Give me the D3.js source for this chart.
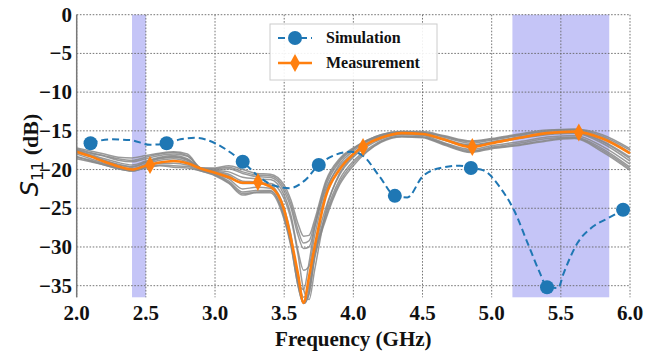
<!DOCTYPE html>
<html>
<head>
<meta charset="utf-8">
<script src="https://cdn.jsdelivr.net/npm/d3@7"></script>
<style>
    body { margin: 0; background: #fff; }
    .tick-label { font-family: "Liberation Serif", "DejaVu Serif", serif; font-weight: bold; font-size: 21px; fill: #111; }
    .legend-text { font-family: "Liberation Serif", "DejaVu Serif", serif; font-weight: bold; font-size: 16px; fill: #111; }
</style>
</head>
<body>
<script>
// frequency grid (GHz) shared by the measured curve and the gray sample runs
const freqGrid = [2.0, 2.1, 2.2, 2.3, 2.4, 2.5, 2.6, 2.7, 2.8, 2.9, 3.0, 3.1, 3.2, 3.3, 3.4, 3.5, 3.55, 3.6, 3.64, 3.68,
    3.72, 3.8, 3.9, 4.0, 4.1, 4.2, 4.35, 4.5, 4.65, 4.85, 5.0, 5.2, 5.4, 5.6, 5.8, 6.0];

const measured = [-17.7, -18.3, -19.0, -19.6, -20.0, -19.5, -19.1, -18.9, -19.2, -19.9, -20.4, -21.0, -21.7, -21.7, -22.2,
    -25.2, -29.0, -33.5, -37.2, -33.8, -30.0, -23.5, -20.0, -18.0, -16.7, -15.9, -15.3, -15.4, -16.1, -17.1, -16.6, -15.9,
    -15.3, -15.1, -16.0, -17.9];

const grayRuns = [
    [-17.2, -17.6, -18.0, -18.4, -18.5, -18.2, -17.9, -17.7, -18.0, -19.8, -19.8, -19.5, -20.0, -20.5, -20.6, -22.0, -24.0, -27.0, -28.6, -28.5, -26.5, -21.5, -18.6, -17.2, -16.2, -15.5, -15.1, -15.1, -15.6, -16.3, -16.0, -15.4, -14.9, -14.8, -15.5, -17.3],
    [-18.6, -19.0, -19.4, -19.9, -20.2, -19.8, -19.5, -19.7, -19.8, -20.2, -20.8, -21.8, -23.3, -23.0, -23.0, -26.5, -30.0, -35.0, -37.3, -36.0, -31.5, -26.5, -22.0, -19.5, -17.7, -16.5, -15.8, -15.9, -16.8, -17.8, -17.3, -16.9, -16.3, -16.0, -17.7, -20.1],
    [-17.5, -18.1, -18.6, -19.1, -19.4, -18.9, -18.4, -18.2, -18.6, -19.9, -20.1, -20.3, -21.0, -21.2, -21.3, -23.3, -26.0, -30.5, -33.0, -32.5, -28.5, -23.0, -19.3, -17.6, -16.4, -15.7, -15.2, -15.3, -16.0, -16.8, -16.4, -15.8, -15.3, -15.1, -16.3, -18.4],
    [-18.0, -18.6, -19.2, -19.7, -19.9, -19.3, -18.8, -18.6, -19.0, -20.0, -20.5, -21.2, -22.5, -22.3, -22.4, -25.5, -29.0, -34.0, -36.5, -35.0, -30.5, -25.0, -20.7, -18.4, -17.0, -16.1, -15.5, -15.6, -16.5, -17.4, -16.9, -16.4, -15.8, -15.6, -17.0, -19.3],
    [-17.4, -17.9, -18.3, -18.8, -19.0, -18.6, -18.2, -18.0, -18.3, -19.8, -20.0, -19.9, -20.5, -20.9, -21.0, -22.8, -25.0, -28.5, -30.2, -30.0, -27.5, -22.2, -19.0, -17.4, -16.3, -15.6, -15.2, -15.2, -15.8, -16.6, -16.2, -15.6, -15.1, -14.9, -15.9, -17.8],
    [-18.3, -18.8, -19.3, -19.8, -20.1, -19.6, -19.2, -19.2, -19.4, -20.1, -20.6, -21.5, -22.9, -22.7, -22.7, -26.0, -29.5, -34.5, -37.0, -35.5, -31.0, -25.8, -21.3, -18.9, -17.4, -16.3, -15.7, -15.8, -16.6, -17.6, -17.1, -16.6, -16.0, -15.8, -17.3, -19.7],
    [-17.8, -18.3, -18.9, -19.4, -19.7, -19.1, -18.6, -18.4, -18.8, -20.0, -20.3, -20.8, -21.8, -21.8, -21.8, -23.8, -26.5, -31.0, -35.5, -36.8, -33.0, -25.5, -20.5, -18.2, -16.8, -15.9, -15.4, -15.5, -16.2, -17.0, -16.6, -16.0, -15.5, -15.3, -16.6, -18.9],
    [-17.6, -18.2, -18.8, -19.3, -19.6, -19.0, -18.5, -18.3, -18.7, -19.9, -20.2, -20.6, -21.5, -21.6, -22.0, -25.0, -28.5, -34.5, -35.5, -32.0, -27.5, -22.6, -19.6, -17.9, -16.6, -15.8, -15.3, -15.4, -16.1, -16.9, -16.5, -15.9, -15.4, -15.2, -16.4, -18.6],
    [-17.3, -17.8, -18.2, -18.6, -18.8, -18.4, -18.0, -17.8, -18.2, -19.8, -19.9, -19.7, -20.3, -20.7, -20.8, -22.4, -24.5, -27.8, -29.5, -29.2, -27.0, -21.8, -18.8, -17.3, -16.2, -15.5, -15.1, -15.2, -15.7, -16.4, -16.1, -15.5, -15.0, -14.8, -15.7, -17.5],
    [-18.4, -18.9, -19.4, -19.9, -20.2, -19.7, -19.4, -19.5, -19.6, -20.2, -20.7, -21.7, -23.1, -22.9, -22.8, -26.2, -29.8, -35.0, -37.3, -36.0, -31.2, -26.2, -21.7, -19.2, -17.6, -16.4, -15.7, -15.8, -16.7, -17.7, -17.2, -16.8, -16.2, -15.9, -17.5, -19.9]
];

const measMarkFreq = [2.53, 3.31, 4.07, 4.86, 5.63];
const measMarkVal = [-19.4, -21.6, -17.1, -17.1, -15.2];

const simFreq = [2.10, 2.24, 2.39, 2.53, 2.65, 2.75, 2.86, 3.00, 3.12, 3.20, 3.33, 3.43, 3.54, 3.65, 3.75, 3.87, 3.98,
    4.06, 4.19, 4.30, 4.39, 4.50, 4.63, 4.77, 4.85, 4.94, 5.06, 5.16, 5.26, 5.35, 5.40, 5.48, 5.52, 5.62, 5.73, 5.84, 5.95];
const simVal = [-16.6, -16.1, -16.2, -16.8, -16.6, -16.1, -15.9, -16.6, -17.9, -19.0, -21.1, -22.1, -22.4, -21.4, -19.4,
    -18.1, -17.7, -18.1, -20.9, -23.4, -23.6, -20.9, -19.8, -19.5, -19.8, -20.1, -22.3, -25.2, -29.5, -33.4, -35.2, -35.3,
    -33.4, -29.5, -27.4, -26.3, -25.2];

const simMarkFreq = [2.10, 2.65, 3.20, 3.75, 4.30, 4.85, 5.40, 5.95];
const simMarkVal = [-16.6, -16.6, -19.0, -19.4, -23.4, -19.8, -35.2, -25.2];

const bandStart = [2.4, 5.15];
const bandEnd = [2.5, 5.85];

const xTicks = [2.0, 2.5, 3.0, 3.5, 4.0, 4.5, 5.0, 5.5, 6.0];
const yTicks = [0, -5, -10, -15, -20, -25, -30, -35];

const W = 647, H = 352;
const x = d3.scaleLinear().domain([2, 6]).range([76.7, 630]);
const y = d3.scaleLinear().domain([0, -36.5]).range([14.7, 297.3]);

const blue = '#1f77b4', orange = '#ff7f0e';

const svg = d3.select('body').append('svg')
    .attr('width', W)
    .attr('height', H);

// shaded bands
svg.append('g').selectAll('rect')
    .data(bandStart)
    .enter().append('rect')
    .attr('x', d => x(d))
    .attr('y', y(0))
    .attr('width', (d, i) => x(bandEnd[i]) - x(d))
    .attr('height', y(-36.5) - y(0))
    .attr('fill', '#c5c5f7');

// dotted grid
const grid = svg.append('g')
    .attr('stroke', '#666')
    .attr('stroke-width', 0.9)
    .attr('stroke-dasharray', '1.6,1.6');
grid.selectAll('.gx').data(xTicks).enter().append('line')
    .attr('x1', d => x(d)).attr('x2', d => x(d))
    .attr('y1', y(0)).attr('y2', y(-36.5));
grid.selectAll('.gy').data(yTicks).enter().append('line')
    .attr('x1', x(2)).attr('x2', x(6))
    .attr('y1', d => y(d)).attr('y2', d => y(d));

const line = d3.line()
    .curve(d3.curveMonotoneX)
    .x(d => x(d[0]))
    .y(d => y(d[1]));

// gray sample runs
svg.append('g').selectAll('path')
    .data(grayRuns)
    .enter().append('path')
    .attr('d', run => line(run.map((v, i) => [freqGrid[i], v])))
    .attr('fill', 'none')
    .attr('stroke', '#888')
    .attr('stroke-width', 1.5)
    .attr('stroke-opacity', 0.85);

// measurement
svg.append('path')
    .attr('d', line(measured.map((v, i) => [freqGrid[i], v])))
    .attr('fill', 'none')
    .attr('stroke', orange)
    .attr('stroke-width', 2.6);

// simulation
svg.append('path')
    .attr('d', line(simVal.map((v, i) => [simFreq[i], v])))
    .attr('fill', 'none')
    .attr('stroke', blue)
    .attr('stroke-width', 2)
    .attr('stroke-dasharray', '7,4');

const diamond = 'M0,-9L5,0L0,9L-5,0Z';

svg.append('g').selectAll('path')
    .data(measMarkFreq)
    .enter().append('path')
    .attr('d', diamond)
    .attr('transform', (d, i) => `translate(${x(d)},${y(measMarkVal[i])})`)
    .attr('fill', orange);

svg.append('g').selectAll('circle')
    .data(simMarkFreq)
    .enter().append('circle')
    .attr('cx', d => x(d))
    .attr('cy', (d, i) => y(simMarkVal[i]))
    .attr('r', 7)
    .attr('fill', blue);

// left spine
svg.append('line')
    .attr('x1', x(2)).attr('x2', x(2))
    .attr('y1', y(0)).attr('y2', y(-36.5))
    .attr('stroke', '#777')
    .attr('stroke-width', 1.5);

// tick labels
svg.append('g').selectAll('text')
    .data(yTicks)
    .enter().append('text')
    .attr('class', 'tick-label')
    .attr('x', 72)
    .attr('y', d => y(d) + 7)
    .attr('text-anchor', 'end')
    .text(d => String(d).replace('-', '\u2212'));

svg.append('g').selectAll('text')
    .data(xTicks)
    .enter().append('text')
    .attr('class', 'tick-label')
    .attr('x', d => x(d))
    .attr('y', 320)
    .attr('text-anchor', 'middle')
    .text(d => d.toFixed(1));

svg.append('text')
    .attr('class', 'tick-label')
    .attr('x', x(4))
    .attr('y', 346)
    .attr('text-anchor', 'middle')
    .text('Frequency (GHz)');

const ylab = svg.append('text')
    .attr('transform', 'translate(38,155) rotate(-90)')
    .attr('text-anchor', 'middle')
    .attr('fill', '#111');
ylab.append('tspan')
    .attr('font-family', 'DejaVu Sans')
    .attr('font-style', 'italic')
    .attr('font-size', 24)
    .text('S');
ylab.append('tspan')
    .attr('font-family', 'DejaVu Sans')
    .attr('font-size', 16)
    .attr('dy', 5)
    .text('11');
ylab.append('tspan')
    .attr('font-family', '"Liberation Serif", "DejaVu Serif", serif')
    .attr('font-weight', 'bold')
    .attr('font-size', 22)
    .attr('dy', -5)
    .text(' (dB)');

// legend
const legend = svg.append('g').attr('transform', 'translate(270,24)');
legend.append('rect')
    .attr('width', 167)
    .attr('height', 56)
    .attr('fill', '#fff')
    .attr('fill-opacity', 0.9)
    .attr('stroke', '#ccc');

const legendItems = ['Simulation', 'Measurement'];
legendItems.forEach((name, i) => {
    const row = legend.append('g').attr('transform', `translate(0,${14 + i * 25})`);
    row.append('line')
        .attr('x1', 8).attr('x2', 42)
        .attr('stroke', i === 0 ? blue : orange)
        .attr('stroke-width', i === 0 ? 2 : 2.6)
        .attr('stroke-dasharray', i === 0 ? '7,4' : null);
    if (i === 0) {
        row.append('circle').attr('cx', 25).attr('r', 7).attr('fill', blue);
    } else {
        row.append('path').attr('d', diamond).attr('transform', 'translate(25,0)').attr('fill', orange);
    }
    row.append('text')
        .attr('class', 'legend-text')
        .attr('x', 56)
        .attr('y', 5)
        .text(name);
});
</script>
</body>
</html>
